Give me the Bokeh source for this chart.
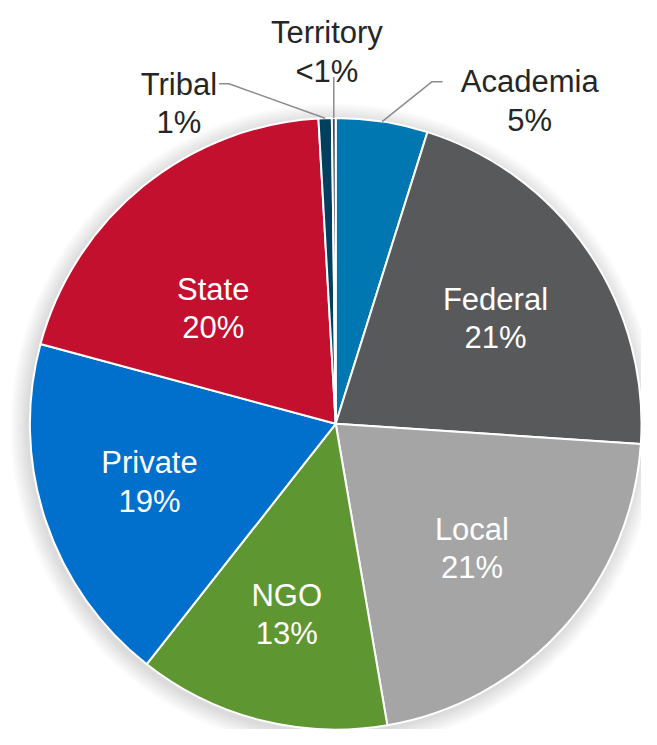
import numpy as np
from bokeh.plotting import figure
from bokeh.models import Range1d, ColumnDataSource
from bokeh.embed import file_html
from bokeh.resources import INLINE
from bokeh.core.properties import value

# ---- data ----
sectors = ["Academia", "Federal", "Local", "NGO", "Private", "State", "Tribal", "Territory"]
shares = [4.85, 21.2, 21.25, 13.3, 18.6, 19.9, 0.7, 0.2]
pct_labels = ["5%", "21%", "21%", "13%", "19%", "20%", "1%", "<1%"]
colors = ["#0077B0", "#58595B", "#A5A5A5", "#5E9732", "#0070CC", "#C3102F", "#00405E", "#3A4A5C"]

# ---- layout (reference pixel space, y down) ----
CX, CY, R = 339, 432, 312

def Y(y):
    return -y

# label anchor: centre x, baseline of first line; inside flag
label_pos = {
    "Academia": (537, 83, False),
    "Federal": (502, 305, True),
    "Local": (478, 540, True),
    "NGO": (289, 607, True),
    "Private": (149, 472, True),
    "State": (214, 295, True),
    "Tribal": (179, 86, False),
    "Territory": (330, 33, False),
}
LINE_GAP = 39

p = figure(width=641, height=729, x_range=Range1d(-3, 651), y_range=Range1d(-744, 0),
           output_backend="svg", toolbar_location=None,
           x_axis_location=None, y_axis_location=None, min_border=0,
           outline_line_color=None, background_fill_color="white",
           border_fill_color="white")
p.grid.visible = False

# soft shadow
for i in range(12, 0, -1):
    p.circle(x=CX - 2, y=Y(CY + 3), radius=R + i * 1.5, fill_color="black",
             fill_alpha=0.012, line_color=None)

# wedges
total = sum(shares)
cum = np.concatenate([[0], np.cumsum(shares)]) / total
start = [np.pi / 2 - 2 * np.pi * cum[i + 1] for i in range(len(shares))]
end = [np.pi / 2 - 2 * np.pi * cum[i] for i in range(len(shares))]
mid = [(s + e) / 2 for s, e in zip(start, end)]

src = ColumnDataSource(dict(sector=sectors, start=start, end=end, color=colors))
p.wedge(x=CX, y=Y(CY), radius=R, start_angle="start", end_angle="end",
        fill_color="color", line_color="white", line_width=2, source=src)

# leader lines
def edge_pt(i):
    return CX + R * np.cos(mid[i]), CY - R * np.sin(mid[i])

lead_col = "#8C8C8C"
ia = sectors.index("Academia")
ex, ey = edge_pt(ia)
lx, ly, _ = label_pos["Academia"]
p.line([ex, 437, 448], [Y(ey), Y(ly), Y(ly)], line_color=lead_col, line_width=1.5)

it = sectors.index("Tribal")
ex, ey = edge_pt(it)
lx, ly, _ = label_pos["Tribal"]
p.line([ex, 230, 220], [Y(ey), Y(ly - 1), Y(ly - 1)], line_color=lead_col, line_width=1.5)

ir = sectors.index("Territory")
ex, ey = edge_pt(ir)
lx, ly, _ = label_pos["Territory"]
p.line([ex, ex], [Y(ey), Y(ly + LINE_GAP + 6)], line_color=lead_col, line_width=1.5)

# labels
xs, ys, txt, tcol = [], [], [], []
for name, pct in zip(sectors, pct_labels):
    lx, ly, inside = label_pos[name]
    c = "white" if inside else "#262626"
    xs += [lx, lx]
    ys += [Y(ly), Y(ly + LINE_GAP)]
    txt += [name, pct]
    tcol += [c, c]
p.text(x=xs, y=ys, text=txt, text_color=tcol, text_align="center",
       text_baseline="alphabetic", text_font=value("Liberation Sans"),
       text_font_size="31px")

open("out.html", "w").write(file_html(p, INLINE))
